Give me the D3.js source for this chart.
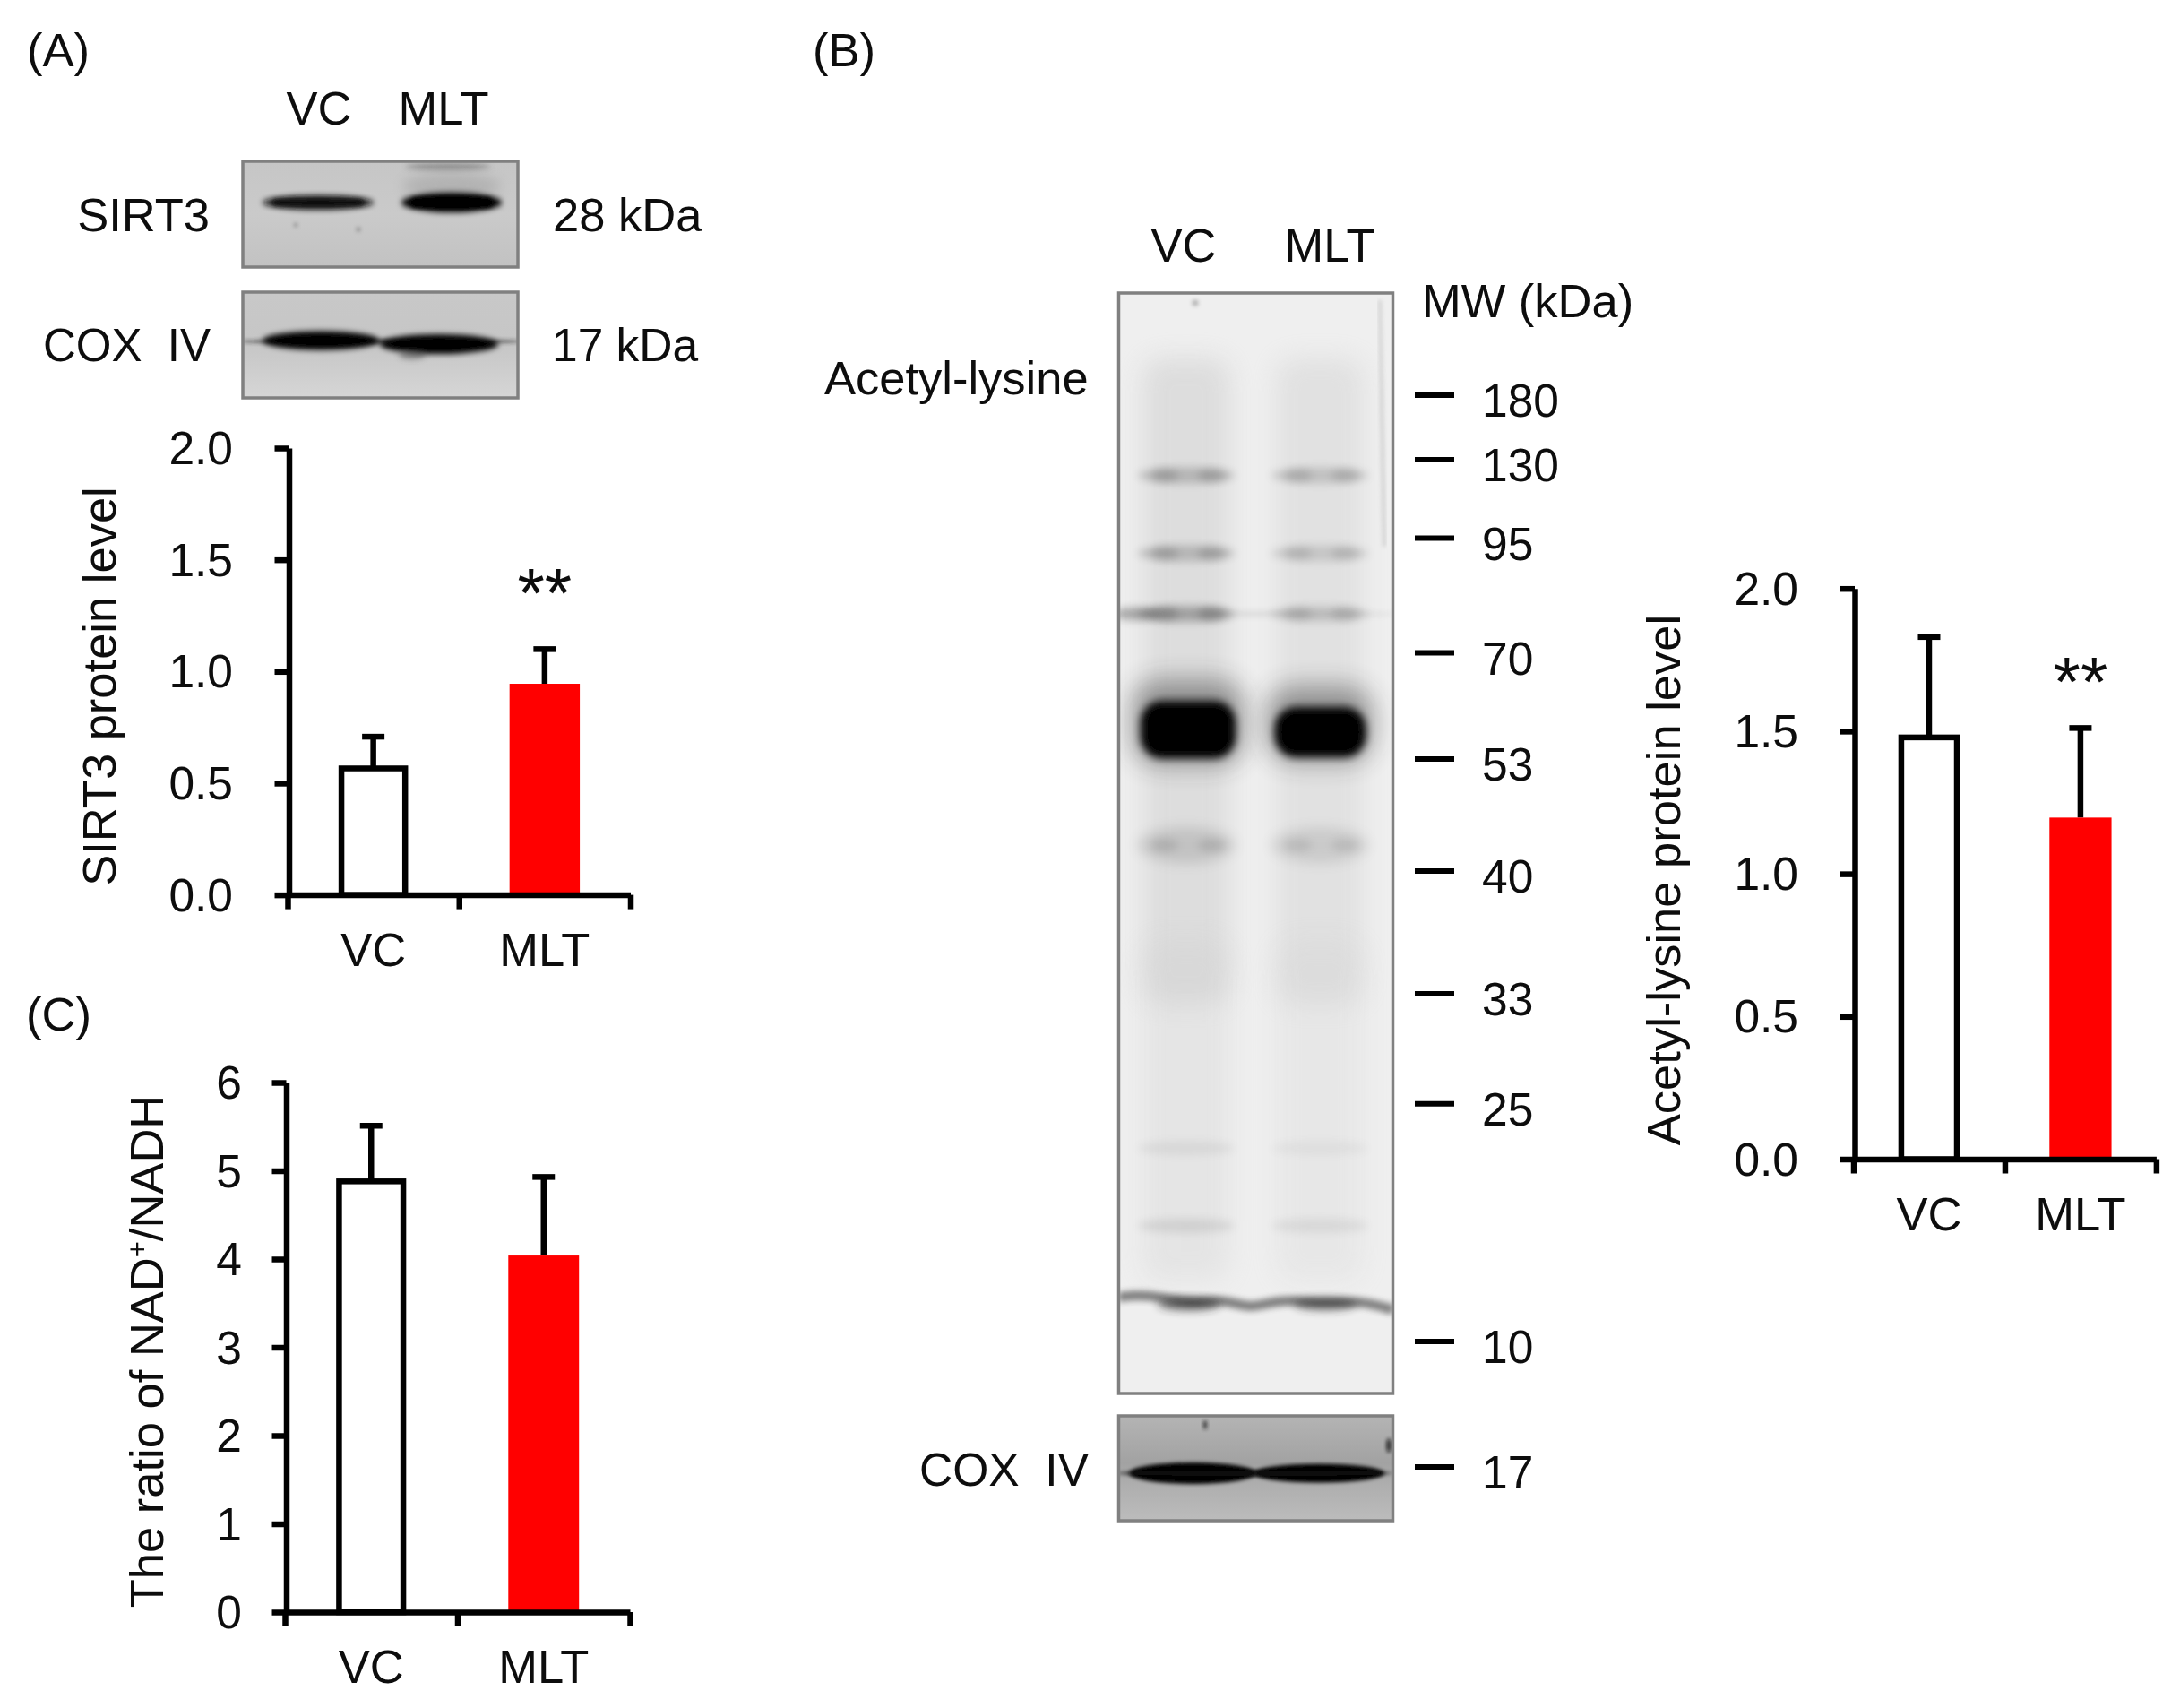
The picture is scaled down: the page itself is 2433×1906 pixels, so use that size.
<!DOCTYPE html>
<html><head><meta charset="utf-8">
<script src="https://cdn.jsdelivr.net/npm/d3@7"></script>
<style>
html,body{margin:0;padding:0;background:#fff}
text{font-family:"Liberation Sans",Arial,sans-serif;font-size:52.5px;fill:#0a0a0a;white-space:pre}
</style></head><body>
<svg id="fig" width="2433" height="1906" xmlns="http://www.w3.org/2000/svg"></svg>
<script>
// ---- data ----
const groups = ["VC", "MLT"];
const sirt3Means = [0.566, 0.945];
const sirt3Tops = [0.708, 1.10];
const sirt3Ticks = [0, 0.5, 1, 1.5, 2];
const acetylMeans = [1.478, 1.197];
const acetylTops = [1.83, 1.511];
const acetylTicks = [0, 0.5, 1, 1.5, 2];
const nadMeans = [4.88, 4.04];
const nadTops = [5.51, 4.93];
const nadTicks = [0, 1, 2, 3, 4, 5, 6];
const mwLabels = [180, 130, 95, 70, 53, 40, 33, 25, 10];
const mwLoading = [17];
const bandKda = [123, 91.7, 78.5, 43, 22.2, 17.3];
const bandVC = [0.3, 0.3, 0.42, 0.2, 0.09, 0.14];
const bandMLT = [0.24, 0.2, 0.22, 0.16, 0.06, 0.1];
const mainBandKda = [57.7, 57.3];
const lowBandFrac = [0, 0.1, 0.25, 0.39, 0.48, 0.58, 0.75, 0.88, 1];
const lowBandKda = [12.8, 13.0, 12.4, 12.7, 12.0, 12.7, 12.4, 12.6, 12.0];

const svg = d3.select("#fig");
const defs = svg.append("defs");
function blur(id, s) {
  defs.append("filter").attr("id", id)
    .attr("x", "-60%").attr("y", "-200%").attr("width", "220%").attr("height", "500%")
    .append("feGaussianBlur").attr("stdDeviation", s);
}
[["b2", 2], ["b3", 3], ["b5", 5], ["b7", 7], ["b14", 14], ["b20", 20]].forEach(d => blur(d[0], d[1]));
const soft = defs.append("filter").attr("id", "soft")
  .attr("filterUnits", "userSpaceOnUse").attr("x", 0).attr("y", 0).attr("width", 2433).attr("height", 1906);
soft.append("feGaussianBlur").attr("stdDeviation", 0.75);

const root = svg.append("g").attr("filter", "url(#soft)");
const AXW = 6.5;

function label(txt, x, y, anchor) {
  return root.append("text").attr("x", x).attr("y", y).attr("text-anchor", anchor || "start").text(txt);
}

function barPanel(o) {
  const y = d3.scaleLinear().domain(o.domain).range([o.y0, o.y1]);
  const x = d3.scaleBand().domain(groups).range([o.x0, o.x1]).paddingInner(0.59).paddingOuter(0.295);
  const xTick = d3.scaleLinear().domain([0, groups.length]).range([o.x0, o.x1]);
  const g = root.append("g");
  const bw = x.bandwidth();
  const capW = 25;
  groups.forEach((c, i) => {
    const cx = x(c) + bw / 2;
    g.append("line").attr("x1", cx).attr("x2", cx).attr("y1", y(o.means[i])).attr("y2", y(o.tops[i]))
      .attr("stroke", "#000").attr("stroke-width", AXW);
    g.append("line").attr("x1", cx - capW / 2).attr("x2", cx + capW / 2).attr("y1", y(o.tops[i])).attr("y2", y(o.tops[i]))
      .attr("stroke", "#000").attr("stroke-width", AXW);
  });
  g.selectAll("rect.bar").data(groups).join("rect").attr("class", "bar")
    .attr("x", (c, i) => i === 0 ? x(c) + bw * 0.005 + AXW / 2 : x(c))
    .attr("width", (c, i) => i === 0 ? bw * 0.99 - AXW : bw)
    .attr("y", (c, i) => y(o.means[i]))
    .attr("height", (c, i) => y(0) - y(o.means[i]))
    .attr("fill", (c, i) => i === 0 ? "#fff" : "#ff0000")
    .attr("stroke", (c, i) => i === 0 ? "#000" : "none")
    .attr("stroke-width", AXW);
  const ya = g.append("g").attr("transform", `translate(${o.x0 + 1.5},0)`)
    .call(d3.axisLeft(y).tickValues(o.ticks).tickSize(16).tickSizeOuter(0).tickPadding(0).tickFormat(o.fmt));
  ya.selectAll("text").remove();
  ya.selectAll("path,line").attr("stroke", "#000").attr("stroke-width", AXW);
  const xa = g.append("g").attr("transform", `translate(0,${o.y0})`)
    .call(d3.axisBottom(xTick).tickValues(d3.range(groups.length + 1)).tickSize(16).tickSizeOuter(0).tickFormat(""));
  xa.selectAll("path,line").attr("stroke", "#000").attr("stroke-width", AXW);
  o.ticks.forEach(t => label(o.fmt(t), o.labelRight, y(t) + 18, "end").style("font-size", "51.5px"));
  groups.forEach(c => label(c, x(c) + bw / 2, o.y0 + 79, "middle"));
  const t = root.append("text").attr("transform", `translate(${o.titleX},${o.titleY}) rotate(-90)`).attr("text-anchor", "middle");
  o.title(t);
  if (o.star) label("**", x(o.star) + bw / 2, o.starY, "middle").style("font-size", "78px");
}

const f1 = d3.format(".1f"), f0 = d3.format("d");
barPanel({domain:[0,2], ticks:sirt3Ticks, means:sirt3Means, tops:sirt3Tops, fmt:f1,
  x0:321, x1:703.5, y0:998.6, y1:500, labelRight:260, titleX:129, titleY:766,
  title:t=>t.text("SIRT3 protein level"), star:"MLT", starY:689});
barPanel({domain:[0,2], ticks:acetylTicks, means:acetylMeans, tops:acetylTops, fmt:f1,
  x0:2068.5, x1:2406.4, y0:1293.5, y1:656.7, labelRight:2007, titleX:1875, titleY:982,
  title:t=>t.text("Acetyl-lysine protein level"), star:"MLT", starY:788});
barPanel({domain:[0,6], ticks:nadTicks, means:nadMeans, tops:nadTops, fmt:f0,
  x0:318, x1:703, y0:1799, y1:1208, labelRight:270, titleX:182, titleY:1508,
  title:t=>{ t.append("tspan").text("The ratio of NAD");
    t.append("tspan").attr("dy",-18).style("font-size","31px").text("+");
    t.append("tspan").attr("dy",18).text("/NADH"); }});

label("(A)", 30, 74);
label("(B)", 907, 74);
label("(C)", 29, 1150);

// ---- blots ----
function blotBox(x, y, w, h, id) {
  defs.append("clipPath").attr("id", id).append("rect").attr("x", x).attr("y", y).attr("width", w).attr("height", h);
  return root.append("g").attr("clip-path", `url(#${id})`);
}
function frame(x, y, w, h) {
  root.append("rect").attr("x", x).attr("y", y).attr("width", w).attr("height", h)
    .attr("fill", "none").attr("stroke", "#808080").attr("stroke-width", 3.5);
}
function grad(id, stops) {
  const g = defs.append("linearGradient").attr("id", id).attr("x1", 0).attr("x2", 0).attr("y1", 0).attr("y2", 1);
  stops.forEach(s => g.append("stop").attr("offset", s[0]).attr("stop-color", s[1]));
}
function blob(g, cx, cy, w, h, color, op, filt) {
  return g.append("ellipse").attr("cx", cx).attr("cy", cy).attr("rx", w / 2).attr("ry", h / 2)
    .attr("fill", color).attr("opacity", op).attr("filter", `url(#${filt})`);
}
function slab(g, cx, cy, w, h, color, op, filt, rx) {
  return g.append("rect").attr("x", cx - w / 2).attr("y", cy - h / 2).attr("width", w).attr("height", h)
    .attr("rx", rx).attr("fill", color).attr("opacity", op).attr("filter", `url(#${filt})`);
}

// SIRT3 blot
grad("gS", [[0, "#c6c6c6"], [0.5, "#cacaca"], [1, "#c2c2c2"]]);
const sb = blotBox(271, 180, 307, 118, "cS");
sb.append("rect").attr("x", 271).attr("y", 180).attr("width", 307).attr("height", 118).attr("fill", "url(#gS)");
blob(sb, 500, 186, 96, 7, "#555", 0.55, "b3");
blob(sb, 504, 208, 110, 30, "#999", 0.45, "b7");
blob(sb, 355, 226, 124, 16, "#111", 0.95, "b3");
slab(sb, 355, 226, 100, 7, "#111", 0.9, "b2", 3);
blob(sb, 504, 226, 112, 22, "#000", 1, "b3");
slab(sb, 504, 226, 90, 11, "#000", 0.9, "b2", 4);
blob(sb, 330, 251, 5, 5, "#777", 0.6, "b2");
blob(sb, 400, 256, 5, 5, "#666", 0.6, "b2");
frame(271, 180, 307, 118);

// COX IV blot (panel A)
grad("gC", [[0, "#c8c8c8"], [0.5, "#c6c6c6"], [1, "#d6d6d6"]]);
const cb = blotBox(271, 326, 307, 118, "cC");
cb.append("rect").attr("x", 271).attr("y", 326).attr("width", 307).attr("height", 118).attr("fill", "url(#gC)");
blob(cb, 425, 381, 320, 5, "#222", 0.75, "b2");
blob(cb, 358, 380, 130, 21, "#000", 1, "b3");
blob(cb, 490, 384, 132, 22, "#000", 1, "b3");
blob(cb, 460, 396, 30, 10, "#444", 0.5, "b3");
frame(271, 326, 307, 118);

// Main acetyl-lysine blot
const mwY = d3.scaleLinear().domain(mwLabels).range([441, 513, 600.6, 728.6, 847, 972, 1109, 1231.7, 1497]);
const laneX = d3.scalePoint().domain(groups).range([1324, 1473]);
const BX = 1248.5, BY = 327, BW = 306, BH = 1228;
const mb = blotBox(BX, BY, BW, BH, "cM");
mb.append("rect").attr("x", BX).attr("y", BY).attr("width", BW).attr("height", BH).attr("fill", "#efefef");
groups.forEach((c, i) => {
  slab(mb, laneX(c), 760, 96, 720, "#c4c4c4", i === 0 ? 0.42 : 0.32, "b14", 20);
  slab(mb, laneX(c), 1240, 96, 380, "#cecece", i === 0 ? 0.3 : 0.22, "b14", 20);
});
bandKda.forEach((k, i) => {
  const th = k === 43 ? 40 : (k < 30 ? 16 : 18);
  const fl = k === 43 ? "b7" : "b5";
  groups.forEach((c, j) => {
    const a = (j === 0 ? bandVC : bandMLT)[i];
    blob(mb, laneX(c), mwY(k), 108, th, "#5a5a5a", a, fl);
    if (k > 30) {
      blob(mb, laneX(c) - 24, mwY(k), 30, 14, "#4a4a4a", a * 0.8, "b5");
      blob(mb, laneX(c) + 28, mwY(k), 30, 14, "#4a4a4a", a * 0.8, "b5");
    }
  });
});
blob(mb, 1268, mwY(78.5), 50, 14, "#444", 0.4, "b5");
blob(mb, 1400, mwY(78.5), 320, 6, "#777", 0.16, "b3");
// main band halo & core
slab(mb, laneX("VC") + 2, 806, 125, 95, "#333", 0.45, "b14", 30);
slab(mb, laneX("MLT"), 808, 118, 85, "#333", 0.45, "b14", 30);
slab(mb, 1326, mwY(mainBandKda[0]), 106, 64, "#000", 1, "b5", 24);
slab(mb, 1473.5, mwY(mainBandKda[1]), 102, 56, "#000", 1, "b5", 24);
// low band
const lowLine = d3.line().x((d, i) => BX + d * BW).y((d, i) => mwY(lowBandKda[i])).curve(d3.curveBasis);
mb.append("path").attr("d", lowLine(lowBandFrac)).attr("fill", "none").attr("stroke", "#555").attr("stroke-width", 11)
  .attr("opacity", 0.7).attr("filter", "url(#b3)");
blob(mb, 1327, mwY(12.35), 70, 14, "#222", 0.6, "b5");
blob(mb, 1479, mwY(12.35), 70, 14, "#222", 0.5, "b5");
// specks and scratch
mb.append("line").attr("x1", 1540).attr("x2", 1545).attr("y1", 335).attr("y2", 610)
  .attr("stroke", "#aaa").attr("stroke-width", 4).attr("opacity", 0.4).attr("filter", "url(#b2)");
blob(mb, 1334, 338, 7, 7, "#999", 0.7, "b2");
frame(BX, BY, BW, BH);

// COX IV blot (panel B)
grad("gB", [[0, "#b4b4b4"], [0.45, "#a2a2a2"], [0.65, "#aeaeae"], [1, "#bcbcbc"]]);
const bb = blotBox(BX, 1580, BW, 117, "cB");
bb.append("rect").attr("x", BX).attr("y", 1580).attr("width", BW).attr("height", 117).attr("fill", "url(#gB)");
blob(bb, 1331, 1644, 142, 24, "#000", 1, "b2");
blob(bb, 1472, 1644, 146, 21, "#000", 1, "b2");
blob(bb, 1400, 1644, 310, 6, "#111", 0.8, "b2");
blob(bb, 1345, 1590, 4, 10, "#222", 0.9, "b2");
blob(bb, 1550, 1613, 5, 16, "#111", 0.9, "b2");
frame(BX, 1580, BW, 117);

// ---- blot labels ----
label("VC", 356, 139, "middle");
label("MLT", 495, 139, "middle");
label("SIRT3", 234, 258, "end");
label("COX  IV", 235, 403, "end").style("font-size", "51px");
label("28 kDa", 617, 258);
label("17 kDa", 616, 403).style("font-size", "51.5px");
label("VC", 1321, 292, "middle");
label("MLT", 1484, 292, "middle");
label("MW (kDa)", 1587, 354);
label("Acetyl-lysine", 920, 440);
label("COX  IV", 1215, 1658, "end").style("font-size", "51.5px");

mwLabels.forEach(m => {
  root.append("line").attr("x1", 1579).attr("x2", 1623).attr("y1", mwY(m)).attr("y2", mwY(m))
    .attr("stroke", "#000").attr("stroke-width", 6);
  label(String(m), 1654, mwY(m) + 24).style("font-size", "51.5px");
});
const loadY = d3.scaleOrdinal().domain(mwLoading).range([1637]);
mwLoading.forEach(m => {
  root.append("line").attr("x1", 1579).attr("x2", 1623).attr("y1", loadY(m)).attr("y2", loadY(m))
    .attr("stroke", "#000").attr("stroke-width", 6);
  label(String(m), 1654, loadY(m) + 24).style("font-size", "51.5px");
});
</script>
</body></html>
